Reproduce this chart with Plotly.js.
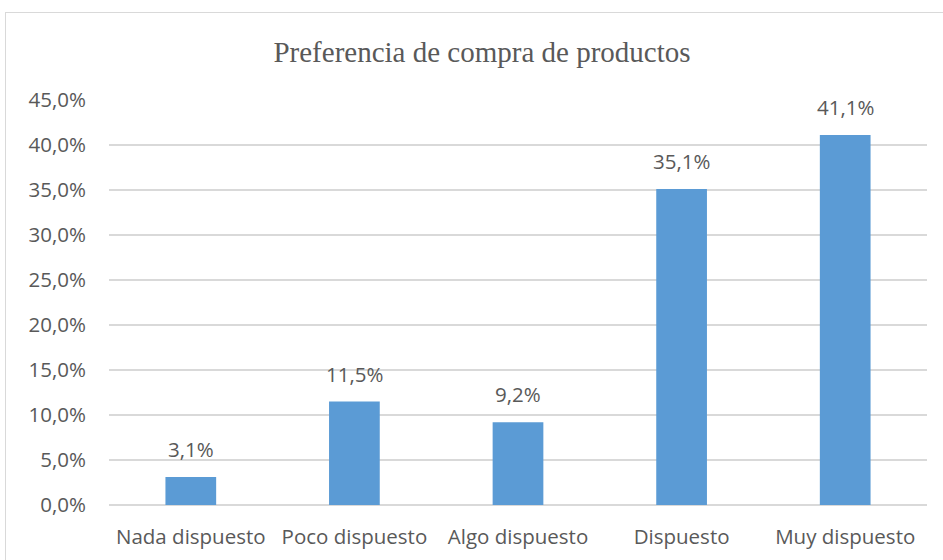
<!DOCTYPE html>
<html><head><meta charset="utf-8">
<script src="https://cdn.plot.ly/plotly-3.0.1.min.js"></script>
<style>
html,body{margin:0;padding:0;background:#fff;overflow:hidden;}
#frame{position:absolute;left:5px;top:12px;width:960px;height:600px;border:1.5px solid #d9d9d9;box-sizing:border-box;pointer-events:none;z-index:5;}
#chart{position:absolute;left:0;top:0;width:943px;height:560px;}
</style></head>
<body>
<div id="chart"></div>
<div id="frame"></div>
<script>
const categories = ["Nada dispuesto","Poco dispuesto","Algo dispuesto","Dispuesto","Muy dispuesto"];
const values = [3.1, 11.5, 9.2, 35.1, 41.1];
const valueLabels = ["3,1%","11,5%","9,2%","35,1%","41,1%"];
const tickVals = [0,5,10,15,20,25,30,35,40,45];
const tickText = ["0,0%","5,0%","10,0%","15,0%","20,0%","25,0%","30,0%","35,0%","40,0%","45,0%"];

const textColor = "#595959";
const trace = {
  type: "bar",
  x: categories,
  y: values,
  marker: {color: "#5B9BD5"},
  hoverinfo: "skip"
};
const annotations = categories.map((c,i)=>({
  x: c, y: values[i], xref: "x", yref: "y",
  text: valueLabels[i], showarrow: false,
  yanchor: "bottom", yshift: 12,
  font: {family: "Open Sans, sans-serif", size: 20.5, color: textColor}
}));
const layout = {
  width: 943, height: 560,
  margin: {l: 109, r: 16, t: 100, b: 55},
  paper_bgcolor: "#fff", plot_bgcolor: "#fff",
  bargap: 0.69,
  showlegend: false,
  title: {
    text: "Preferencia de compra de productos",
    font: {family: "Liberation Serif, Times New Roman, serif", size: 29, color: textColor},
    x: 0.456, xanchor: "center", xref: "paper",
    y: 1 - 52/560, yanchor: "middle", yref: "container"
  },
  xaxis: {
    tickfont: {family: "Open Sans, sans-serif", size: 20.5, color: textColor},
    showgrid: false, showline: false, ticks: "",
    ticklabelstandoff: 17
  },
  yaxis: {
    range: [0, 45],
    tickvals: tickVals, ticktext: tickText,
    tickfont: {family: "Open Sans, sans-serif", size: 20.5, color: textColor},
    showgrid: true, gridcolor: "#d9d9d9", gridwidth: 1.5,
    zeroline: true, zerolinecolor: "#d9d9d9", zerolinewidth: 1.5,
    showline: false, ticks: "",
    ticklabelstandoff: 22
  },
  annotations: annotations
};
Plotly.newPlot("chart", [trace], layout, {displayModeBar: false, staticPlot: true});
</script>
</body></html>
